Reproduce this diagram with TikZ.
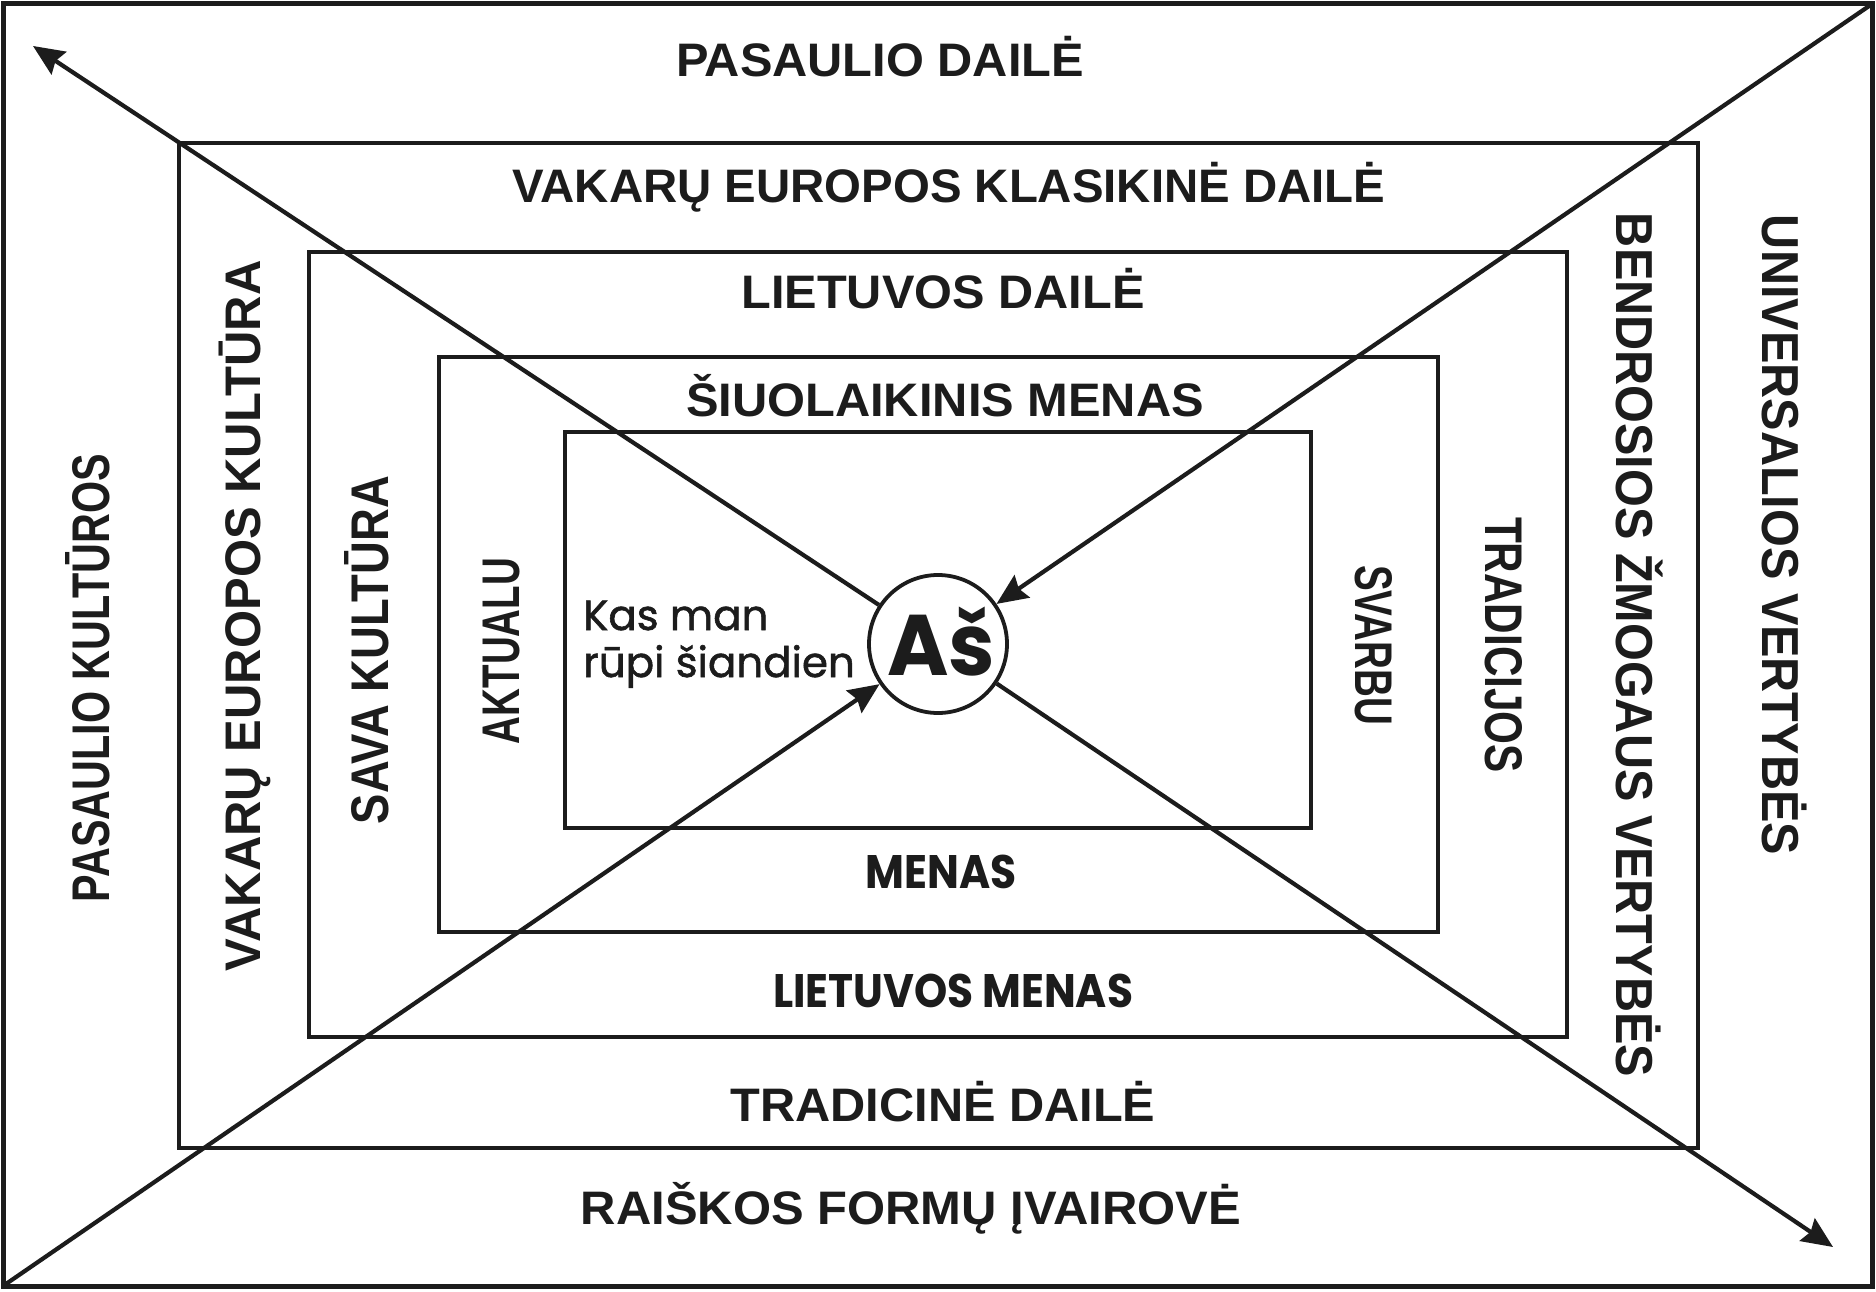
\documentclass[tikz,border=0pt]{standalone}
\usepackage{fontspec}
\setmainfont{Liberation Sans}
\newfontfamily\geo{Poppins}
\newfontfamily\geom{Poppins}[FakeBold=1.3]
\usepackage{graphicx}
\usetikzlibrary{arrows.meta}
\definecolor{inkc}{RGB}{28,28,28}
\newcommand\fw[2]{\resizebox{#1}{\height}{#2}}
\begin{document}
\begin{tikzpicture}[x=1pt,y=-1pt,
  frame/.style={draw=inkc, line width=4.5pt},
  lbl/.style={font=\fontsize{47}{56}\selectfont\bfseries, inner sep=0pt, anchor=base, text=inkc},
  nlbl/.style={font=\fontsize{53}{60}\selectfont\bfseries, inner sep=0pt, anchor=base, text=inkc},
  glbl/.style={font=\geo\fontsize{47}{56}\selectfont\bfseries, inner sep=0pt, anchor=base, text=inkc},
  arr/.style={draw=inkc, line width=4.2pt, -{Stealth[length=31pt,width=27pt,inset=4pt]}}]
\useasboundingbox (0,0) rectangle (1876,1292);
\fill[white] (0,0) rectangle (1876,1292);
% frames
\draw[frame, line width=5pt] (3,4) rectangle (1872,1286);
\draw[frame] (179,143) rectangle (1698,1148);
\draw[frame] (309,252) rectangle (1567,1037);
\draw[frame] (439,357) rectangle (1438,932);
\draw[frame] (565,432) rectangle (1311,828);
% corner coordinates
\coordinate (blc) at (3,1286);
\coordinate (trc) at (1872,4);
\coordinate (tla) at (33,46);
\coordinate (bra) at (1833,1247);
% centre
\node[draw=inkc, line width=3.8pt, circle, minimum size=138pt, inner sep=0pt] (as) at (938,644) {};
\node[font=\geo\fontsize{86}{90}\selectfont\bfseries, text=inkc, inner sep=0pt, anchor=base] (asT) at (941,675) {\fw{108pt}{Aš}};
\node[font=\geom\fontsize{42}{47}\selectfont, text=inkc, inner sep=0pt, anchor=base west, align=left] (kas) at (583,677) {Kas man\\rūpi šiandien};
% arrows
\draw[arr] (blc) -- (as);
\draw[arr] (trc) -- (as);
\draw[arr] (as) -- (tla);
\draw[arr] (as) -- (bra);
% horizontal labels
\node[lbl] (t1) at (880,77) {\fw{408pt}{PASAULIO DAILĖ}};
\node[lbl] (t2) at (949,203) {\fw{873pt}{VAKARŲ EUROPOS KLASIKINĖ DAILĖ}};
\node[lbl] (t3) at (943,308) {\fw{403pt}{LIETUVOS DAILĖ}};
\node[lbl] (t4) at (945,416) {\fw{518pt}{ŠIUOLAIKINIS MENAS}};
\node[glbl] (t5) at (941,888) {\fw{151pt}{MENAS}};
\node[glbl] (t6) at (953,1007) {\fw{360pt}{LIETUVOS MENAS}};
\node[lbl] (t7) at (943,1121) {\fw{425pt}{TRADICINĖ DAILĖ}};
\node[lbl] (t8) at (911,1224) {\fw{660pt}{RAIŠKOS FORMŲ ĮVAIROVĖ}};
% vertical labels (reading upward)
\node[nlbl, rotate=90] (v1) at (109,678) {\fw{448pt}{PASAULIO KULTŪROS}};
\node[lbl, rotate=90, font=\fontsize{50}{60}\selectfont\bfseries] (v2) at (260,616) {\fw{711pt}{VAKARŲ EUROPOS KULTŪRA}};
\node[nlbl, rotate=90] (v3) at (388,650) {\fw{348pt}{SAVA KULTŪRA}};
\node[nlbl, rotate=90] (v4) at (519,651) {\fw{186pt}{AKTUALU}};
% vertical labels (reading downward)
\node[nlbl, rotate=-90] (v5) at (1355,645) {\fw{160pt}{SVARBU}};
\node[nlbl, rotate=-90] (v6) at (1485,645) {\fw{256pt}{TRADICIJOS}};
\node[lbl, rotate=-90, font=\fontsize{52}{60}\selectfont\bfseries] (v7) at (1616,645) {\fw{864pt}{BENDROSIOS ŽMOGAUS VERTYBĖS}};
\node[lbl, rotate=-90, font=\fontsize{52}{60}\selectfont\bfseries] (v8) at (1762,535) {\fw{640pt}{UNIVERSALIOS VERTYBĖS}};
\end{tikzpicture}
\end{document}
